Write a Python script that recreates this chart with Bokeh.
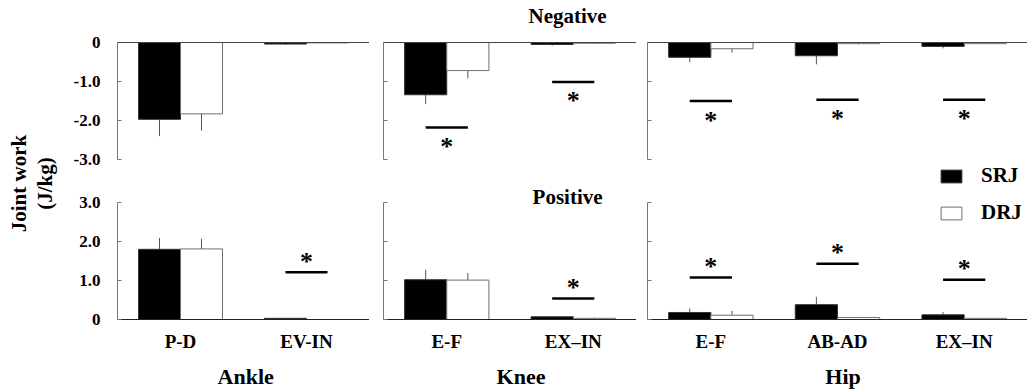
import math
from bokeh.plotting import figure
from bokeh.models import Range1d, FixedTicker, Span, Legend, LegendItem, ColumnDataSource
from bokeh.layouts import row, column
from bokeh.embed import file_html
from bokeh.resources import INLINE
from bokeh.core.properties import value

# ---------------- data ----------------
categories = ["P-D", "EV-IN", "E-F", "EX–IN", "E-F", "AB-AD", "EX–IN"]
joint_names = ["Ankle", "Knee", "Hip"]
joint_members = [[0, 1], [2, 3], [4, 5, 6]]
series_names = ["SRJ", "DRJ"]

neg_srj = [-1.97, -0.04, -1.34, -0.05, -0.38, -0.34, -0.10]
neg_srj_sd = [0.43, 0.02, 0.24, 0.03, 0.13, 0.22, 0.05]
neg_drj = [-1.83, -0.01, -0.72, -0.02, -0.16, -0.03, -0.03]
neg_drj_sd = [0.43, 0.01, 0.20, 0.01, 0.10, 0.02, 0.01]
neg_sig = [None, None, -2.18, -1.01, -1.50, -1.47, -1.47]

pos_srj = [1.80, 0.03, 1.02, 0.07, 0.18, 0.38, 0.12]
pos_srj_sd = [0.29, 0.01, 0.26, 0.02, 0.10, 0.20, 0.07]
pos_drj = [1.81, 0.00, 1.01, 0.03, 0.11, 0.05, 0.03]
pos_drj_sd = [0.26, 0.00, 0.18, 0.02, 0.11, 0.02, 0.01]
pos_sig = [None, 1.21, None, 0.54, 1.08, 1.43, 1.02]

neg_ticks = [-3.0, -2.0, -1.0, 0.0]
neg_tick_labels = ["-3.0", "-2.0", "-1.0", "0"]
pos_ticks = [0.0, 1.0, 2.0, 3.0]
pos_tick_labels = ["0", "1.0", "2.0", "3.0"]
row_titles = ["Negative", "Positive"]
y_label_lines = ["Joint work", "(J/kg)"]

# ---------------- layout / style ----------------
FONT = "Liberation Serif"
PX = 39.0                 # pixels per J/kg
ZERO_TOP = 42             # zero line of the negative row (px from top)
ZERO_BOT = 319            # zero line of the positive row (px from top)
top_heights = [170, 170, 162]
BOT_B = 68
frame_widths = [252, 253, 380]
left_borders = [57, 14, 11]
label_pad = ["\u2009", "\u2002\u2002", "\u2002"]   # nudges joint label centre right
AXIS_GRAY = "#777777"


def build(j, negative):
    idx = joint_members[j]
    n = len(idx)
    centers = [k + 0.5 for k in range(n)]
    if negative:
        srj = [neg_srj[i] for i in idx]
        srj_sd = [neg_srj_sd[i] for i in idx]
        drj = [neg_drj[i] for i in idx]
        drj_sd = [neg_drj_sd[i] for i in idx]
        sig = [neg_sig[i] for i in idx]
        sign = -1
        fh = top_heights[j]
        yr = Range1d(-(fh - ZERO_TOP) / PX, ZERO_TOP / PX)
        ticks, tlabels, bounds = neg_ticks, neg_tick_labels, (-3, 0)
    else:
        srj = [pos_srj[i] for i in idx]
        srj_sd = [pos_srj_sd[i] for i in idx]
        drj = [pos_drj[i] for i in idx]
        drj_sd = [pos_drj_sd[i] for i in idx]
        sig = [pos_sig[i] for i in idx]
        sign = 1
        fh = ZERO_BOT - top_heights[j]
        yr = Range1d(0, fh / PX)
        ticks, tlabels, bounds = pos_ticks, pos_tick_labels, (0, 3)

    p = figure(frame_width=frame_widths[j], frame_height=fh,
               x_range=Range1d(0, n), y_range=yr,
               x_axis_location=None if negative else "below",
               output_backend="svg", toolbar_location=None,
               min_border_left=left_borders[j], min_border_right=0,
               min_border_top=0, min_border_bottom=0 if negative else BOT_B,
               background_fill_color="white", border_fill_color="white")
    p.outline_line_color = None
    p.grid.visible = False

    src_s = ColumnDataSource(dict(x=[c - 1 / 6 for c in centers], top=srj,
                                  err=[v + sign * s for v, s in zip(srj, srj_sd)]))
    src_d = ColumnDataSource(dict(x=[c + 1 / 6 for c in centers], top=drj,
                                  err=[v + sign * s for v, s in zip(drj, drj_sd)]))
    p.segment(x0="x", y0="top", x1="x", y1="err", source=src_s, line_color="#555555", line_width=1)
    p.segment(x0="x", y0="top", x1="x", y1="err", source=src_d, line_color="#555555", line_width=1)
    r_s = p.vbar(x="x", top="top", bottom=0, width=1 / 3, source=src_s,
                 fill_color="black", line_color="#333333", line_width=1)
    r_d = p.vbar(x="x", top="top", bottom=0, width=1 / 3, source=src_d,
                 fill_color="white", line_color="#6e6e6e", line_width=1)

    sx = [c for c, s in zip(centers, sig) if s is not None]
    sy = [s for s in sig if s is not None]
    if sx:
        p.segment(x0=[x - 1 / 6 for x in sx], y0=sy, x1=[x + 1 / 6 for x in sx], y1=sy,
                  line_color="black", line_width=2.5)
        p.text(x=sx, y=sy, text=["*"] * len(sx), text_font=value(FONT), text_font_style="bold",
               text_font_size="26px", text_align="center", text_baseline="middle",
               text_color="black", y_offset=19 if negative else -11)

    ax = p.yaxis[0]
    ax.ticker = FixedTicker(ticks=ticks)
    ax.bounds = bounds
    ax.major_tick_in = 4
    ax.major_tick_out = 0
    ax.minor_tick_line_color = None
    ax.axis_line_color = AXIS_GRAY
    ax.major_tick_line_color = AXIS_GRAY
    if j == 0:
        ax.major_label_overrides = {t: l for t, l in zip(ticks, tlabels)}
        ax.major_label_standoff = 17
        ax.major_label_text_font = FONT
        ax.major_label_text_font_style = "bold"
        ax.major_label_text_font_size = "17px"
        ax.major_label_text_color = "black"
    else:
        ax.major_label_overrides = {t: "" for t in ticks}
        ax.major_label_standoff = 0

    if negative:
        p.add_layout(Span(location=0, dimension="width", line_color="#444444", line_width=1))
    else:
        xa = p.xaxis[0]
        xa.ticker = FixedTicker(ticks=centers)
        xa.major_label_overrides = {c: categories[i] for c, i in zip(centers, idx)}
        xa.major_tick_in = 0
        xa.major_tick_out = 0
        xa.minor_tick_line_color = None
        xa.axis_line_color = "#222222"
        xa.major_label_standoff = 11
        xa.major_label_text_font = FONT
        xa.major_label_text_font_style = "bold"
        xa.major_label_text_font_size = "19px"
        xa.major_label_text_color = "black"
        xa.axis_label = label_pad[j] + joint_names[j]
        xa.axis_label_standoff = 9
        xa.axis_label_text_font = FONT
        xa.axis_label_text_font_style = "bold"
        xa.axis_label_text_font_size = "22px"
        xa.axis_label_text_color = "black"

    if j == 1:
        ty = 0.667 if negative else (ZERO_BOT - 196.7) / PX
        p.text(x=[1.455], y=[ty], text=[row_titles[0 if negative else 1]], text_font=value(FONT),
               text_font_style="bold", text_font_size="21px", text_align="center",
               text_baseline="middle", text_color="black")
    if j == 2 and not negative:
        leg = Legend(items=[LegendItem(label=series_names[0], renderers=[r_s]),
                            LegendItem(label=series_names[1], renderers=[r_d])],
                     location=(291, 94), orientation="vertical",
                     glyph_width=26, glyph_height=16, label_standoff=17, spacing=12,
                     padding=0, margin=0, border_line_color=None, background_fill_alpha=0,
                     label_text_font=FONT, label_text_font_style="bold",
                     label_text_font_size="21px", label_text_color="black")
        p.add_layout(leg)
    return p


cols = [column(build(j, True), build(j, False)) for j in range(3)]

lab = figure(width=60, height=389, x_range=Range1d(0, 60), y_range=Range1d(0, 389),
             x_axis_location=None, y_axis_location=None, output_backend="svg",
             toolbar_location=None, min_border=0)
lab.outline_line_color = None
lab.grid.visible = False
lab.text(x=[18, 44], y=[206, 206], text=y_label_lines, angle=math.pi / 2,
         text_font=value(FONT), text_font_style="bold", text_font_size="21px",
         text_align="center", text_baseline="middle", text_color="black")

layout = row(lab, *cols)
open("out.html", "w").write(file_html(layout, INLINE))
